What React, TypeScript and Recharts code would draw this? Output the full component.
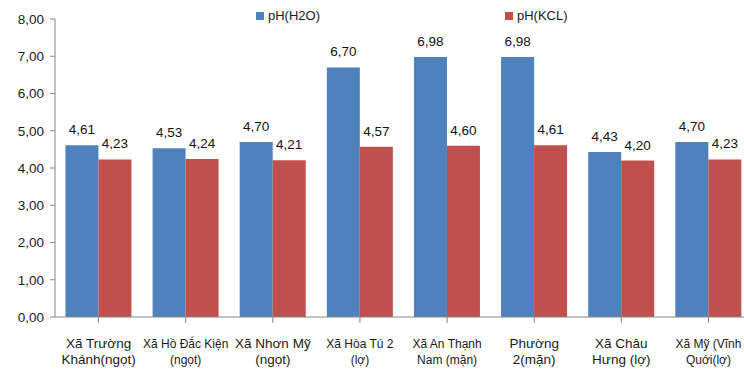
import React from "react";
import { BarChart, Bar, XAxis, YAxis, LabelList } from "recharts";

const communes = [
  "Xã Trường|Khánh(ngọt)",
  "Xã Hồ Đắc Kiện|(ngọt)",
  "Xã Nhơn Mỹ|(ngọt)",
  "Xã Hòa Tú 2|(lợ)",
  "Xã An Thạnh|Nam (mặn)",
  "Phường|2(mặn)",
  "Xã Châu|Hưng (lợ)",
  "Xã Mỹ (Vĩnh|Quới(lợ)",
];
const phH2O = [4.61, 4.53, 4.7, 6.7, 6.98, 6.98, 4.43, 4.7];
const phKCL = [4.23, 4.24, 4.21, 4.57, 4.6, 4.61, 4.2, 4.23];
const yTicks = [0, 1, 2, 3, 4, 5, 6, 7, 8];

const BLUE = "#4F81BD";
const RED = "#C0504D";
const FONT = "'Liberation Sans', Arial, sans-serif";

// labels that Excel squeezed a bit to fit the column width
const compact = new Set([1, 3, 4, 7]);

const data = communes.map((name, i) => ({
  name,
  h2o: phH2O[i],
  kcl: phKCL[i],
}));

const vn = (v: number) => v.toFixed(2).replace(".", ",");

// two-line category label under each group
const CategoryTick = (props: any) => {
  const { x, y, payload, index } = props;
  const lines = String(payload.value).split("|");
  const small = compact.has(index);
  return (
    <g transform={`translate(${x},${y})`}>
      {lines.map((ln, i) => (
        <text
          key={i}
          x={0}
          y={23 + i * 16}
          textAnchor="middle"
          fontSize={small ? 12 : 13.5}
          fontFamily={FONT}
          fill="#1a1a1a"
        >
          {ln}
        </text>
      ))}
    </g>
  );
};

const LegendItem = ({ color, text, left }: { color: string; text: string; left: number }) => (
  <div style={{ position: "absolute", left, top: 8, display: "flex", alignItems: "center", fontFamily: FONT, fontSize: 13, color: "#1a1a1a" }}>
    <span style={{ width: 8, height: 8, background: color, marginRight: 4, display: "inline-block" }} />
    {text}
  </div>
);

export default function App() {
  return (
    <div style={{ position: "fixed", left: 0, top: 0, width: 744, height: 372, overflow: "hidden", background: "#fff" }}>
      <BarChart
        width={760}
        height={372}
        data={data}
        margin={{ top: 19, right: 8, bottom: 0, left: 0 }}
        barCategoryGap="12%"
        barGap={0}
      >
        <XAxis
          dataKey="name"
          interval={0}
          height={55}
          stroke="#868686"
          tickSize={6}
          tick={<CategoryTick />}
        />
        <YAxis
          width={55}
          domain={[0, 8]}
          ticks={yTicks}
          tickFormatter={vn}
          stroke="#868686"
          tickSize={5}
          tickMargin={6}
          tick={{ fill: "#1a1a1a", fontSize: 13.5, fontFamily: FONT }}
        />
        <Bar dataKey="h2o" fill={BLUE} isAnimationActive={false}>
          <LabelList dataKey="h2o" position="top" offset={11} formatter={(v: any) => vn(Number(v))} style={{ fill: "#111", fontSize: 13.5, fontFamily: FONT }} />
        </Bar>
        <Bar dataKey="kcl" fill={RED} isAnimationActive={false}>
          <LabelList dataKey="kcl" position="top" offset={11} formatter={(v: any) => vn(Number(v))} style={{ fill: "#111", fontSize: 13.5, fontFamily: FONT }} />
        </Bar>
      </BarChart>
      <LegendItem color={BLUE} text="pH(H2O)" left={256} />
      <LegendItem color={RED} text="pH(KCL)" left={505} />
    </div>
  );
}
